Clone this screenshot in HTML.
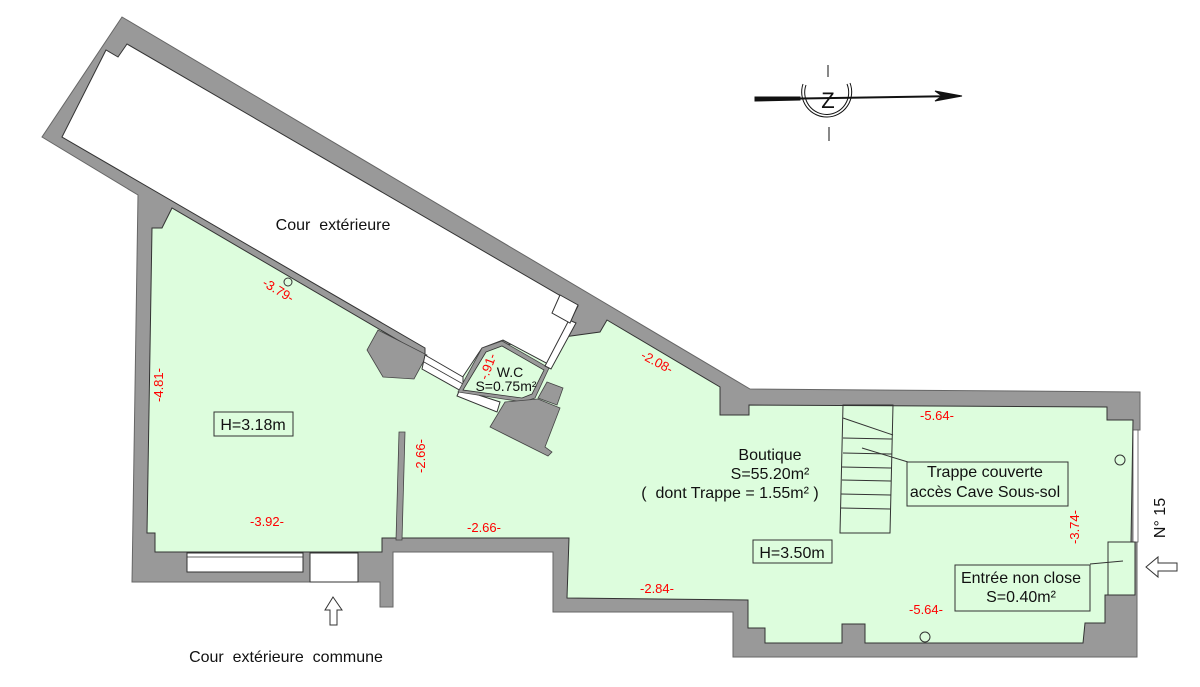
<!DOCTYPE html>
<html><head><meta charset="utf-8"><style>
html,body{margin:0;padding:0;background:#fff}
svg{display:block}
text{font-family:"Liberation Sans",sans-serif;white-space:pre}
.r{fill:#f00;font-size:13px}
.b{fill:#111;font-size:16px}
</style></head><body>
<svg width="1200" height="687" viewBox="0 0 1200 687" xmlns="http://www.w3.org/2000/svg" xml:space="preserve">
<polygon fill="#999" stroke="#666" stroke-width="1" points="122,17 750,389 1140,392 1140,430 1137,430 1137,657 733,657 733,612 553,612 553,552 393,552 393,607 380,607 380,582 132,582 138,195 42,137"/>
<rect x="1133" y="430" width="5" height="112" fill="#fff" stroke="#555" stroke-width="0.8"/>
<polygon fill="#ddfddd" stroke="#333" stroke-width="1" points="152,228 162,228 172,208 425,356 600,332 607,320 720,387 720,415 749,415 749,405 1107,407 1107,420 1133,420 1131,542 1108,542 1108,595 1105,595 1105,623 1085,623 1083,643 865,643 865,624 842,624 842,643 765,643 765,628 748,628 748,600 567,598 569,538 382,538 382,552 155,552 155,533 147,533"/>
<polygon fill="#fff" stroke="#333" stroke-width="1" points="62,137 106,50 118,57 127,44 578,306 548,364 503,340 482,348 462,378 425,357 425,348"/>
<rect x="187" y="553" width="116" height="19" fill="#fff" stroke="#333" stroke-width="1"/>
<line x1="187" y1="557" x2="303" y2="557" stroke="#333" stroke-width="0.8"/>
<rect x="310" y="553" width="48" height="29" fill="#fff" stroke="#333" stroke-width="1"/>
<polygon fill="#999" stroke="#444" stroke-width="0.8" points="399,432 405,432 402,540 396,540"/>
<polygon fill="#999" stroke="#444" stroke-width="0.8" points="378,330 427,355 414,379 383,377 367,350"/>
<polygon fill="#fff" stroke="#333" stroke-width="1" points="425,355 463,377 463,392 422,369"/>
<line x1="424" y1="362" x2="463" y2="384" stroke="#333" stroke-width="0.8"/>
<polygon fill="#fff" stroke="#333" stroke-width="1" points="460,389 500,402 497,412 457,396"/>
<polygon fill="#999" stroke="#444" stroke-width="0.8" points="482,348 502,341 549,368 535,398 523,402 458,392"/>
<polygon fill="#ddfddd" stroke="#333" stroke-width="0.8" points="486,352 502,346 544,370 532,394 522,398 463,390"/>
<polygon fill="#999" stroke="#444" stroke-width="0.8" points="505,402 538,399 560,408 545,447 552,452 548,456 490,427"/>
<polygon fill="#999" stroke="#444" stroke-width="0.8" points="547,382 563,388 557,405 538,398"/>
<polygon fill="#fff" stroke="#333" stroke-width="1" points="569,320 576,323 551,369 545,366"/>
<polygon fill="#fff" stroke="#333" stroke-width="1" points="560,295 578,305 570,323 552,313"/>
<g stroke="#333" stroke-width="1" fill="none">
<polygon points="843,405 893,405 890,533 840,533"/>
<line x1="843" y1="418" x2="893" y2="435"/>
<line x1="843" y1="438" x2="892" y2="439"/>
<line x1="843" y1="453" x2="892" y2="454"/>
<line x1="842" y1="467" x2="891" y2="468"/>
<line x1="842" y1="480" x2="891" y2="481"/>
<line x1="841" y1="494" x2="891" y2="495"/>
<line x1="841" y1="508" x2="890" y2="509"/>
<line x1="862" y1="448" x2="908" y2="462"/>
<rect x="907" y="462" width="161" height="44" fill="#ddfddd"/>
<rect x="753" y="540" width="79" height="23"/>
<rect x="214" y="412" width="79" height="24"/>
<rect x="1108" y="542" width="27" height="53" fill="#ddfddd"/>
<rect x="955" y="565" width="135" height="46" fill="#ddfddd"/>
<line x1="1090" y1="564" x2="1123" y2="561"/>
<circle cx="1120" cy="460" r="5"/>
<circle cx="925" cy="637" r="5"/>
<circle cx="288" cy="282" r="4"/>
<polygon points="333,597 325,610 330,610 330,625 337,625 337,610 342,610"/>
<polygon points="1146,567 1158,557 1158,563 1177,563 1177,571 1158,571 1158,577"/>
</g>
<g stroke="#111" fill="none">
<polygon points="755,97 800,97 800,100 755,101" fill="#111"/>
<line x1="770" y1="99" x2="960" y2="96" stroke-width="2"/>
<polygon points="935,91 962,96 935,101 942,96" fill="#111"/>
<path d="M 803 84 A 25 25 0 1 0 850 83" stroke-width="1"/>
<path d="M 806 85 A 22 22 0 1 0 847 84" stroke-width="1"/>
<line x1="828" y1="65" x2="828" y2="77"/>
<line x1="829" y1="127" x2="829" y2="141"/>
</g>
<text x="828" y="108" text-anchor="middle" fill="#111" style="font-size:22px">Z</text>
<text class="b" x="333" y="230" text-anchor="middle">Cour  extérieure</text>
<text class="b" x="286" y="662" text-anchor="middle">Cour  extérieure  commune</text>
<text class="b" x="510" y="377" text-anchor="middle" style="font-size:14px">W.C</text>
<text class="b" x="506" y="391" text-anchor="middle" style="font-size:14px">S=0.75m²</text>
<text class="b" x="770" y="460" text-anchor="middle">Boutique</text>
<text class="b" x="770" y="479" text-anchor="middle">S=55.20m²</text>
<text class="b" x="730" y="498" text-anchor="middle">(  dont Trappe = 1.55m² )</text>
<text class="b" x="985" y="477" text-anchor="middle">Trappe couverte</text>
<text class="b" x="985" y="497" text-anchor="middle">accès Cave Sous-sol</text>
<text class="b" x="1021" y="583" text-anchor="middle">Entrée non close</text>
<text class="b" x="1021" y="602" text-anchor="middle">S=0.40m²</text>
<text class="b" x="792" y="558" text-anchor="middle">H=3.50m</text>
<text class="b" x="253" y="430" text-anchor="middle">H=3.18m</text>
<text class="b" x="0" y="0" text-anchor="middle" transform="translate(1165,518) rotate(-90)">N° 15</text>
<text class="r" x="937" y="420" text-anchor="middle">-5.64-</text>
<text class="r" x="926" y="614" text-anchor="middle">-5.64-</text>
<text class="r" x="657" y="593" text-anchor="middle">-2.84-</text>
<text class="r" x="484" y="532" text-anchor="middle">-2.66-</text>
<text class="r" x="267" y="526" text-anchor="middle">-3.92-</text>
<text class="r" x="0" y="0" text-anchor="middle" transform="translate(1079,527) rotate(-90)">-3.74-</text>
<text class="r" x="0" y="0" text-anchor="middle" transform="translate(425,456) rotate(-90)">-2.66-</text>
<text class="r" x="0" y="0" text-anchor="middle" transform="translate(163,385) rotate(-90)">-4.81-</text>
<text class="r" x="0" y="0" text-anchor="middle" transform="translate(276,294) rotate(31)">-3.79-</text>
<text class="r" x="0" y="0" text-anchor="middle" transform="translate(655,366) rotate(28)">-2.08-</text>
<text class="r" x="0" y="0" text-anchor="middle" transform="translate(492,368) rotate(-70)">-.91-</text>
</svg>
</body></html>
